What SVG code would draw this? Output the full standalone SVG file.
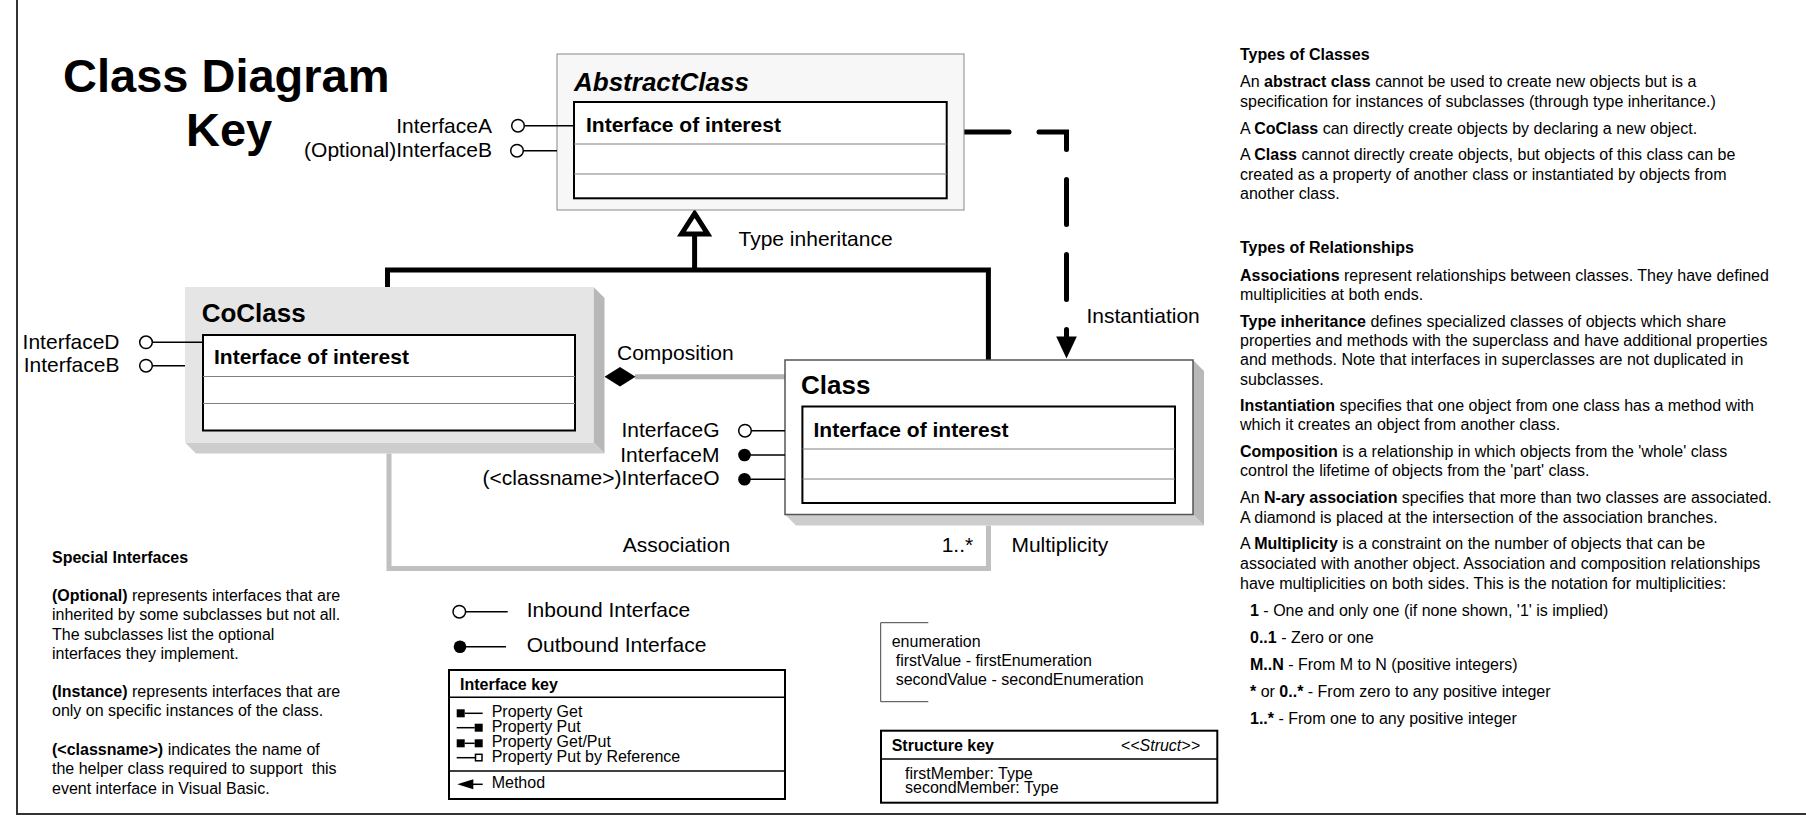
<svg xmlns="http://www.w3.org/2000/svg" width="1806" height="815" viewBox="0 0 1806 815">
<style>
text{font-family:"Liberation Sans",Arial,Helvetica,sans-serif;fill:#000}
.t21{font-size:21px}
.b21{font-size:21px;font-weight:bold}
.ttl{font-size:26px;font-weight:bold}
.s16{font-size:16px}
.b{font-weight:bold}
.inner{fill:#fff;stroke:#000;stroke-width:2}
.div{stroke:#808080;stroke-width:1}
.lead{stroke:#000;stroke-width:1.5;fill:none}
.inb{fill:#fff;stroke:#000;stroke-width:1.5}
.outb{fill:#000}
.sideR{fill:#b8b8b8}
.sideB{fill:#cdcdcd}
.end{text-anchor:end}
</style>
<rect width="1806" height="815" fill="#fff"/>
<path d="M17,0 V814 H1806" fill="none" stroke="#333" stroke-width="2"/>

<g id="title">
<text x="63" y="92" style="font-size:47px;font-weight:bold">Class Diagram</text>
<text x="186" y="146" style="font-size:47px;font-weight:bold">Key</text>
</g>

<g id="connectors">
<path d="M387.5,287 V270 H988.4 V360" fill="none" stroke="#000" stroke-width="5"/>
<path d="M694.6,270 V234" fill="none" stroke="#000" stroke-width="5"/>
<polygon points="694.6,213.5 681.5,234 707.7,234" fill="#fff" stroke="#000" stroke-width="5"/>
<line x1="635" y1="376.7" x2="785" y2="376.7" stroke="#b3b3b3" stroke-width="5"/>
<polygon points="604.5,376.7 620,367 635.5,376.7 620,386.4" fill="#000"/>
<path d="M964,132 H1066.5 V337" fill="none" stroke="#000" stroke-width="5" stroke-dasharray="45 30" stroke-linecap="round"/>
<polygon points="1056.2,336.5 1076.8,336.5 1066.5,358.5" fill="#000"/>
<path d="M389,453.5 V568.5 H988.5 V525.5" fill="none" stroke="#c0c0c0" stroke-width="5"/>
<text class="t21" x="738.5" y="246">Type inheritance</text>
<text class="t21" x="617" y="360">Composition</text>
<text class="t21" x="1086.5" y="323">Instantiation</text>
<text class="t21" x="622.7" y="552">Association</text>
<text class="t21" x="941.7" y="552">1..*</text>
<text class="t21" x="1011.4" y="552">Multiplicity</text>
</g>

<g id="abstractclass">
<rect x="557" y="54" width="407" height="156" fill="#f7f7f7" stroke="#888" stroke-width="1"/>
<text x="574" y="91" class="ttl" font-style="italic">AbstractClass</text>
<rect class="inner" x="574" y="102" width="372.7" height="96.3"/>
<line class="div" x1="574" y1="144" x2="946.7" y2="144"/>
<line class="div" x1="574" y1="174" x2="946.7" y2="174"/>
<text class="b21" x="586" y="131.7">Interface of interest</text>
<line class="lead" x1="524.3" y1="125.7" x2="574" y2="125.7"/>
<circle class="inb" cx="518" cy="125.7" r="6.3"/>
<text class="t21 end" x="492" y="132.5">InterfaceA</text>
<line class="lead" x1="523.3" y1="150.7" x2="557" y2="150.7"/>
<circle class="inb" cx="517" cy="150.7" r="6.3"/>
<text class="t21 end" x="492" y="157">(Optional)InterfaceB</text>
</g>

<g id="coclass">
<polygon class="sideR" points="593.5,287 604.5,298 604.5,453.5 593.5,442.5"/>
<polygon class="sideB" points="185,442.5 593.5,442.5 604.5,453.5 196,453.5"/>
<rect x="185" y="287" width="408.5" height="155.5" fill="#e5e5e5"/>
<text class="ttl" x="201.7" y="321.7">CoClass</text>
<rect class="inner" x="203" y="335" width="372" height="95.5"/>
<line class="div" x1="203" y1="376.5" x2="575" y2="376.5"/>
<line class="div" x1="203" y1="403.5" x2="575" y2="403.5"/>
<text class="b21" x="214" y="364">Interface of interest</text>
<line class="lead" x1="152.3" y1="342.3" x2="203" y2="342.3"/>
<circle class="inb" cx="146" cy="342.3" r="6.3"/>
<text class="t21 end" x="119.5" y="348.5">InterfaceD</text>
<line class="lead" x1="152.3" y1="365.7" x2="185" y2="365.7"/>
<circle class="inb" cx="146" cy="365.7" r="6.3"/>
<text class="t21 end" x="119.5" y="371.5">InterfaceB</text>
</g>

<g id="class">
<polygon class="sideR" points="1193,360 1204,371 1204,525.5 1193,514.5"/>
<polygon class="sideB" points="785,514.5 1193,514.5 1204,525.5 796,525.5"/>
<rect x="785" y="360" width="408" height="154.5" fill="#fff" stroke="#555" stroke-width="1.5"/>
<text class="ttl" x="801" y="394">Class</text>
<rect class="inner" x="802.4" y="406.5" width="372.6" height="96.5"/>
<line class="div" x1="802.4" y1="449" x2="1175" y2="449"/>
<line class="div" x1="802.4" y1="479" x2="1175" y2="479"/>
<text class="b21" x="813.5" y="436.5">Interface of interest</text>
<line class="lead" x1="751.3" y1="430.7" x2="785" y2="430.7"/>
<circle class="inb" cx="745" cy="430.7" r="6.3"/>
<text class="t21 end" x="719.5" y="437">InterfaceG</text>
<line class="lead" x1="744.5" y1="455" x2="785" y2="455"/>
<circle class="outb" cx="744.5" cy="455" r="6.3"/>
<text class="t21 end" x="719.5" y="461.5">InterfaceM</text>
<line class="lead" x1="744.5" y1="479.3" x2="785" y2="479.3"/>
<circle class="outb" cx="744.5" cy="479.3" r="6.3"/>
<text class="t21 end" x="719.5" y="485">(&lt;classname&gt;)InterfaceO</text>
</g>

<g id="legend">
<line class="lead" x1="465.6" y1="611.7" x2="507.7" y2="611.7"/>
<circle class="inb" cx="459.3" cy="611.7" r="6.3"/>
<text class="t21" x="526.7" y="617.3">Inbound Interface</text>
<line class="lead" x1="460" y1="646.7" x2="506" y2="646.7"/>
<circle class="outb" cx="460" cy="646.7" r="6.3"/>
<text class="t21" x="526.7" y="652.3">Outbound Interface</text>
</g>

<g id="interface-key">
<rect x="449" y="670" width="336" height="129" fill="#fff" stroke="#000" stroke-width="2"/>
<line x1="449" y1="697.3" x2="785" y2="697.3" stroke="#000" stroke-width="1.5"/>
<line x1="449" y1="771" x2="785" y2="771" stroke="#000" stroke-width="1.5"/>
<text class="s16 b" x="460" y="690">Interface key</text>
<rect x="456.7" y="709.3" width="8" height="8" fill="#000"/>
<line class="lead" x1="464.7" y1="713.3" x2="482.7" y2="713.3"/>
<line class="lead" x1="456.7" y1="727.7" x2="474.7" y2="727.7"/>
<rect x="474.7" y="723.7" width="8" height="8" fill="#000"/>
<rect x="456.7" y="739.3" width="8" height="8" fill="#000"/>
<line class="lead" x1="464.7" y1="743.3" x2="474.7" y2="743.3"/>
<rect x="474.7" y="739.3" width="8" height="8" fill="#000"/>
<line class="lead" x1="456.7" y1="757.7" x2="475.5" y2="757.7"/>
<rect x="475.5" y="754.3" width="6.5" height="6.5" fill="#fff" stroke="#000" stroke-width="1.5"/>
<polygon points="457.3,784.3 473.3,779.3 473.3,789.3" fill="#000"/>
<line class="lead" x1="473" y1="784.3" x2="482.7" y2="784.3"/>
<text class="s16" x="491.7" y="717.3">Property Get</text>
<text class="s16" x="491.7" y="732.3">Property Put</text>
<text class="s16" x="491.7" y="747">Property Get/Put</text>
<text class="s16" x="491.7" y="761.7">Property Put by Reference</text>
<text class="s16" x="491.7" y="788.3">Method</text>
</g>

<g id="enumeration">
<path d="M928.3,622.7 H880.7 V701.7 H928.3" fill="none" stroke="#444" stroke-width="1"/>
<text class="s16" x="891.7" y="646.7">enumeration</text>
<text class="s16" x="895.7" y="666">firstValue - firstEnumeration</text>
<text class="s16" x="895.7" y="685">secondValue - secondEnumeration</text>
</g>

<g id="structure-key">
<rect x="881" y="730.7" width="336.3" height="72" fill="#fff" stroke="#000" stroke-width="2"/>
<line x1="881" y1="759" x2="1217.3" y2="759" stroke="#000" stroke-width="1.5"/>
<text class="s16 b" x="891.7" y="750.7">Structure key</text>
<text class="s16 end" x="1200" y="750.7" font-style="italic">&lt;&lt;Struct&gt;&gt;</text>
<text class="s16" x="905" y="779">firstMember: Type</text>
<text class="s16" x="905" y="793.3">secondMember: Type</text>
</g>

<g id="special-interfaces" class="s16">
<text class="s16 b" x="52" y="562.7">Special Interfaces</text>
<text class="s16" x="52" y="601"><tspan class="b">(Optional)</tspan> represents interfaces that are</text>
<text class="s16" x="52" y="620.3">inherited by some subclasses but not all.</text>
<text class="s16" x="52" y="639.6">The subclasses list the optional</text>
<text class="s16" x="52" y="659">interfaces they implement.</text>
<text class="s16" x="52" y="696.7"><tspan class="b">(Instance)</tspan> represents interfaces that are</text>
<text class="s16" x="52" y="716">only on specific instances of the class.</text>
<text class="s16" x="52" y="755"><tspan class="b">(&lt;classname&gt;)</tspan> indicates the name of</text>
<text class="s16" x="52" y="774.3" xml:space="preserve">the helper class required to support  this</text>
<text class="s16" x="52" y="793.6">event interface in Visual Basic.</text>
</g>

<g id="types-text">
<text class="s16 b" x="1240" y="60.3">Types of Classes</text>
<text class="s16" x="1240" y="87.3">An <tspan class="b">abstract class</tspan> cannot be used to create new objects but is a</text>
<text class="s16" x="1240" y="107">specification for instances of subclasses (through type inheritance.)</text>
<text class="s16" x="1240" y="134">A <tspan class="b">CoClass</tspan> can directly create objects by declaring a new object.</text>
<text class="s16" x="1240" y="160">A <tspan class="b">Class</tspan> cannot directly create objects, but objects of this class can be</text>
<text class="s16" x="1240" y="179.5">created as a property of another class or instantiated by objects from</text>
<text class="s16" x="1240" y="199">another class.</text>
<text class="s16 b" x="1240" y="252.7">Types of Relationships</text>
<text class="s16" x="1240" y="280.7"><tspan class="b">Associations</tspan> represent relationships between classes. They have defined</text>
<text class="s16" x="1240" y="300">multiplicities at both ends.</text>
<text class="s16" x="1240" y="326.7"><tspan class="b">Type inheritance</tspan> defines specialized classes of objects which share</text>
<text class="s16" x="1240" y="346">properties and methods with the superclass and have additional properties</text>
<text class="s16" x="1240" y="365.3">and methods. Note that interfaces in superclasses are not duplicated in</text>
<text class="s16" x="1240" y="384.7">subclasses.</text>
<text class="s16" x="1240" y="411"><tspan class="b">Instantiation</tspan> specifies that one object from one class has a method with</text>
<text class="s16" x="1240" y="430.3">which it creates an object from another class.</text>
<text class="s16" x="1240" y="456.7"><tspan class="b">Composition</tspan> is a relationship in which objects from the 'whole' class</text>
<text class="s16" x="1240" y="476.3">control the lifetime of objects from the 'part' class.</text>
<text class="s16" x="1240" y="503.3">An <tspan class="b">N-ary association</tspan> specifies that more than two classes are associated.</text>
<text class="s16" x="1240" y="522.7">A diamond is placed at the intersection of the association branches.</text>
<text class="s16" x="1240" y="549.3">A <tspan class="b">Multiplicity</tspan> is a constraint on the number of objects that can be</text>
<text class="s16" x="1240" y="569">associated with another object. Association and composition relationships</text>
<text class="s16" x="1240" y="588.7">have multiplicities on both sides. This is the notation for multiplicities:</text>
<text class="s16" x="1250" y="616"><tspan class="b">1</tspan> - One and only one (if none shown, '1' is implied)</text>
<text class="s16" x="1250" y="642.7"><tspan class="b">0..1</tspan> - Zero or one</text>
<text class="s16" x="1250" y="669.5"><tspan class="b">M..N</tspan> - From M to N (positive integers)</text>
<text class="s16" x="1250" y="696.5"><tspan class="b">*</tspan> or <tspan class="b">0..*</tspan> - From zero to any positive integer</text>
<text class="s16" x="1250" y="723.7"><tspan class="b">1..*</tspan> - From one to any positive integer</text>
</g>
</svg>
